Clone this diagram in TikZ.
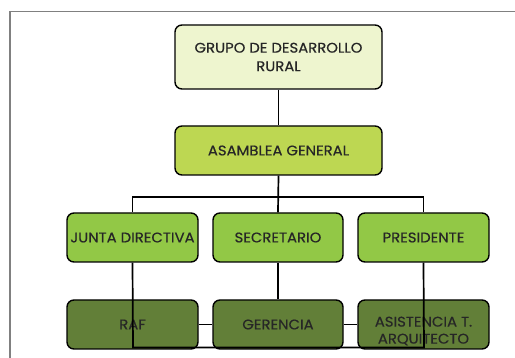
\documentclass[tikz,border=0pt]{standalone}
\usepackage{fontspec}
\setmainfont{Poppins}[FakeStretch=1.06,BoldFont=Poppins,BoldFeatures={FakeBold=0.5}]
\definecolor{txt}{HTML}{262626}
\definecolor{c1}{HTML}{EEF5CF}
\definecolor{c2}{HTML}{BDD752}
\definecolor{c3}{HTML}{92C846}
\definecolor{c4}{HTML}{627F38}
\definecolor{frm}{HTML}{808080}
\begin{document}
\begin{tikzpicture}[x=1pt,y=-1pt,
  org/.style={draw=black,line width=1.4pt,rounded corners=7pt,text=txt,
    font=\fontsize{14}{18.5}\selectfont\bfseries,align=center,inner sep=0pt},
  conn/.style={draw=black,line width=1.7pt}]
\useasboundingbox (0,0) rectangle (515,358);
\fill[white] (0,0) rectangle (515,358);
\draw[frm,line width=1.5pt] (10,358) -- (10,11.5) -- (515,11.5);
% nodes
\node[org,fill=c1,minimum width=207pt,minimum height=64pt] (grupo) at (278.5,57) {GRUPO DE DESARROLLO\\RURAL};
\node[org,fill=c2,minimum width=207pt,minimum height=49pt] (asam) at (278.5,150.5) {ASAMBLEA GENERAL};
\node[org,fill=c3,minimum width=131pt,minimum height=49pt] (junta) at (132.5,237.5) {JUNTA DIRECTIVA};
\node[org,fill=c3,minimum width=130pt,minimum height=49pt] (secr) at (278,237.5) {SECRETARIO};
\node[org,fill=c3,minimum width=131pt,minimum height=49pt] (pres) at (423.5,237.5) {PRESIDENTE};
\node[org,fill=c4,minimum width=131pt,minimum height=49pt] (raf) at (132.5,324.5) {RAF};
\node[org,fill=c4,minimum width=130pt,minimum height=49pt] (ger) at (278,324.5) {GERENCIA};
\node[org,fill=c4,minimum width=131pt,minimum height=49pt] (asis) at (423.5,324.5) {};
\node[text=txt,font=\fontsize{14}{17}\selectfont\bfseries,align=center,inner sep=0pt,anchor=north] (asistxt) at (423.5,316.5) {ASISTENCIA T.\\ARQUITECTO};
% connectors
\draw[conn] (grupo.south) -- (asam.north);
\draw[conn] (asam.south) -- (secr.north);
\draw[conn] (junta.north) -- ++(0,-15) -| (pres.north);
\draw[conn] (secr.south) -- (ger.north);
\draw[conn] (raf.east) -- (ger.west);
\draw[conn] (ger.east) -- (asis.west);
\coordinate (bl) at (133,347.5);
\coordinate (br) at (424,347.5);
\draw[conn] (junta.south) -- (bl) -- (br) -- (pres.south);
\end{tikzpicture}
\end{document}
